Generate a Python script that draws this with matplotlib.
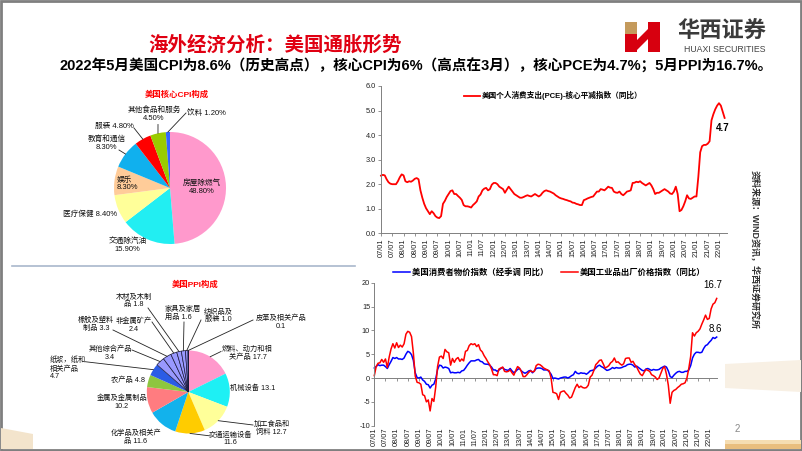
import numpy as np
import matplotlib
matplotlib.use('Agg')
import matplotlib.pyplot as plt
from matplotlib.patches import Polygon, Rectangle

# 字体：英文数字用 Liberation Sans，中文回退到 Noto Sans CJK SC
plt.rcParams['font.family'] = ['Liberation Sans', 'Noto Sans CJK SC']
plt.rcParams['axes.unicode_minus'] = False

# ---------------- 数据 ----------------
# 美国核心CPI构成（%）
cpi_names = ['房屋除燃气', '交通除汽油', '医疗保健', '娱乐', '教育和通信', '服装', '其他食品和服务', '饮料']
cpi_share = [48.8, 15.9, 8.4, 8.3, 8.3, 4.8, 4.5, 1.2]
cpi_colors = ['#FF99CC', '#22EEF2', '#FFFF99', '#FFCC99', '#10B0EE', '#FF0000', '#99CC00', '#3366FF']

# 美国PPI构成（%）
ppi_names = ['燃料、动力和相关产品', '机械设备', '加工食品和饲料', '交通运输设备', '化学品及相关产品',
             '金属及金属制品', '农产品', '纸浆，纸和相关产品', '其他综合产品', '橡胶及塑料制品',
             '非金属矿产', '木材及木制品', '家具及家居用品', '纺织品及服装', '皮革及相关产品']
ppi_share = [17.7, 13.1, 12.7, 11.6, 11.6, 10.2, 4.8, 4.7, 3.4, 3.3, 2.4, 1.8, 1.6, 1.0, 0.1]
ppi_colors = ['#FF99CC', '#1EF0F4', '#FFFF99', '#FFCC00', '#12B2EC', '#FF7C80', '#8DC63F', '#2B5CE6',
              '#9999FF', '#9999FF', '#9999FF', '#9999FF', '#9999FF', '#9999FF', '#9999FF']

# 月度横轴标签（每6个月）
tick_labels = ['07/01', '07/07', '08/01', '08/07', '09/01', '09/07', '10/01', '10/07', '11/01', '11/07',
               '12/01', '12/07', '13/01', '13/07', '14/01', '14/07', '15/01', '15/07', '16/01', '16/07',
               '17/01', '17/07', '18/01', '18/07', '19/01', '19/07', '20/01', '20/07', '21/01', '21/07',
               '22/01']

# 美国核心PCE同比，2007/01-2022/04
pce = [2.35, 2.38, 2.36, 2.20, 2.08, 2.02, 2.00, 2.00, 2.00, 2.12, 2.28, 2.40,
       2.36, 2.12, 2.08, 2.12, 2.10, 2.15, 2.22, 2.25, 2.20, 1.75, 1.45, 1.20,
       1.02, 0.90, 0.78, 0.90, 0.82, 0.70, 0.64, 0.62, 0.70, 1.20, 1.32, 1.48,
       1.60, 1.72, 1.75, 1.60, 1.60, 1.52, 1.45, 1.36, 1.15, 1.10, 1.10, 1.08,
       1.05, 1.15, 1.22, 1.30, 1.50, 1.58, 1.75, 1.82, 1.85, 1.75, 1.80, 1.98,
       2.05, 2.05, 2.00, 1.90, 1.85, 1.80, 1.65, 1.78, 1.90, 1.80, 1.70, 1.60,
       1.55, 1.50, 1.45, 1.45, 1.48, 1.52, 1.55, 1.52, 1.50, 1.55, 1.60, 1.55,
       1.50, 1.55, 1.65, 1.72, 1.75, 1.72, 1.70, 1.66, 1.62, 1.55, 1.50, 1.45,
       1.42, 1.40, 1.37, 1.35, 1.32, 1.30, 1.25, 1.24, 1.20, 1.18, 1.15, 1.15,
       1.35, 1.38, 1.42, 1.45, 1.48, 1.50, 1.60, 1.70, 1.70, 1.80, 1.78, 1.75,
       1.82, 1.90, 1.86, 1.85, 1.70, 1.66, 1.65, 1.70, 1.60, 1.55, 1.62, 1.70,
       1.72, 1.75, 2.05, 2.06, 2.10, 2.08, 2.12, 2.05, 2.00, 1.95, 2.00, 2.05,
       1.95, 1.80, 1.60, 1.65, 1.65, 1.70, 1.75, 1.80, 1.75, 1.70, 1.62, 1.60,
       1.70, 1.90, 1.60, 0.90, 0.95, 1.10, 1.30, 1.55, 1.42, 1.40, 1.45, 1.50,
       1.50, 2.30, 3.30, 3.55, 3.60, 3.60, 3.65, 3.75, 4.60, 4.85, 5.05, 5.20,
       5.30, 5.20, 4.95, 4.70]

# 美国CPI同比，2007/01-2022/05
cpi = [2.1, 2.4, 2.8, 2.6, 2.7, 2.7, 2.4, 2.0, 2.8, 3.5, 4.3, 4.1,
       4.3, 4.0, 4.0, 3.9, 4.2, 5.0, 5.6, 5.4, 4.9, 3.7, 1.1, 0.1,
       0.0, 0.2, -0.4, -0.7, -1.3, -1.4, -2.1, -1.5, -1.3, -0.2, 1.8, 2.7,
       2.6, 2.1, 2.3, 2.2, 2.0, 1.1, 1.2, 1.1, 1.1, 1.2, 1.1, 1.5,
       1.6, 2.1, 2.7, 3.2, 3.6, 3.6, 3.6, 3.8, 3.9, 3.5, 3.4, 3.0,
       2.9, 2.9, 2.7, 2.3, 1.7, 1.7, 1.4, 1.7, 2.0, 2.2, 1.8, 1.7,
       1.6, 2.0, 1.5, 1.1, 1.4, 1.8, 2.0, 1.5, 1.2, 1.0, 1.2, 1.5,
       1.6, 1.1, 1.5, 2.0, 2.1, 2.1, 2.0, 1.7, 1.7, 1.7, 1.3, 0.8,
       -0.1, 0.0, -0.1, -0.2, 0.0, 0.1, 0.2, 0.2, 0.0, 0.2, 0.5, 0.7,
       1.4, 1.0, 0.9, 1.1, 1.0, 1.0, 0.8, 1.1, 1.5, 1.6, 1.7, 2.1,
       2.5, 2.7, 2.4, 2.2, 1.9, 1.6, 1.7, 1.9, 2.2, 2.0, 2.2, 2.1,
       2.1, 2.2, 2.4, 2.5, 2.8, 2.9, 2.9, 2.7, 2.3, 2.5, 2.2, 1.9,
       1.6, 1.5, 1.9, 2.0, 1.8, 1.6, 1.8, 1.7, 1.7, 1.8, 2.1, 2.3,
       2.5, 2.3, 1.5, 0.3, 0.1, 0.6, 1.0, 1.3, 1.4, 1.2, 1.2, 1.4,
       1.4, 1.7, 2.6, 4.2, 5.0, 5.4, 5.4, 5.3, 5.4, 6.2, 6.8, 7.0,
       7.5, 7.9, 8.5, 8.3, 8.6]

# 美国PPI同比，2007/01-2022/05
ppi = [0.5, 2.4, 3.1, 3.2, 3.9, 3.3, 4.0, 2.2, 4.4, 6.1, 7.2, 6.3,
       7.4, 6.4, 6.9, 6.5, 7.2, 9.2, 9.8, 9.6, 8.7, 5.2, 0.4, -0.9,
       -1.0, -1.3, -3.5, -3.7, -5.0, -4.6, -6.9, -4.3, -4.9, -1.9, 2.4, 4.4,
       4.6, 4.1, 6.0, 5.5, 5.3, 2.7, 4.1, 3.3, 4.0, 4.3, 3.5, 4.0,
       3.6, 5.6, 5.8, 6.8, 7.2, 7.0, 7.2, 6.6, 7.0, 5.9, 5.5, 4.7,
       4.1, 3.4, 2.8, 1.9, 0.7, 0.7, 0.5, 1.9, 2.1, 2.3, 1.4, 1.3,
       1.4, 1.7, 1.1, 0.6, 1.6, 2.4, 2.1, 1.4, 0.3, 0.3, 0.7, 1.2,
       1.5, 1.3, 1.4, 2.6, 2.9, 2.8, 2.5, 2.1, 1.9, 1.7, 1.5, 0.0,
       -3.0, -3.1, -3.3, -4.5, -3.0, -2.8, -2.7, -3.2, -3.6, -4.2, -4.0, -3.0,
       -2.0, -1.3, -2.0, -1.7, -2.0, -2.1, -2.0, -1.5, 0.2, 0.6, 1.6, 2.8,
       3.2, 3.7, 3.8, 3.0, 2.1, 2.3, 2.6, 3.2, 3.5, 4.2, 3.3, 3.4,
       3.0, 2.7, 3.0, 4.1, 4.2, 4.2, 3.3, 3.5, 2.8, 2.3, 1.5, 0.8,
       0.5, 1.2, 1.8, 1.6, 1.4, 0.7, 0.5, 0.2, -0.3, 0.0, 1.0, 2.0,
       2.4, 0.8, -1.5, -5.3, -3.0, -2.6, -2.4, -2.0, -1.7, -1.3, -1.2, -1.0,
       0.0, 2.0, 4.5, 9.5, 8.8, 9.5, 9.8, 10.3, 11.3, 12.2, 13.2, 12.3,
       12.5, 14.5, 15.5, 15.8, 16.7]

# ---------------- 画布（像素坐标背景层） ----------------
W, H = 802, 451
fig = plt.figure(figsize=(W / 100, H / 100), dpi=100)
bg = fig.add_axes([0, 0, 1, 1])


def py(y):
    # 图片像素 y（向下）转为背景层坐标（向上）
    return H - y


CJK = ['Liberation Sans', 'Noto Sans CJK SC']
GRAY = '#808080'

# 核心CPI饼图
cpi_wedges, _ = bg.pie(cpi_share, colors=cpi_colors, startangle=90, counterclock=False,
                       center=(170, py(188)), radius=56, frame=True,
                       wedgeprops=dict(linewidth=0))
# PPI饼图
ppi_wedges, _ = bg.pie(ppi_share, colors=ppi_colors, startangle=90, counterclock=False,
                       center=(188.3, py(392)), radius=41.5, frame=True,
                       wedgeprops=dict(linewidth=0))
for w in ppi_wedges[8:]:
    w.set_edgecolor('#1a1a3a')
    w.set_linewidth(0.5)

bg.set_aspect('auto')
bg.set_xlim(0, W)
bg.set_ylim(0, H)
bg.axis('off')


def edge_point(w):
    ang = np.deg2rad((w.theta1 + w.theta2) / 2)
    return w.center[0] + w.r * np.cos(ang), w.center[1] + w.r * np.sin(ang)


# 核心CPI标签：(x, y, 分隔符, 对齐, 引线起点)
cpi_layout = [(202, 187.5, '\n', 'center', None),
              (127.5, 245, '\n', 'center', None),
              (90, 214.3, ' ', 'center', None),
              (116.5, 183.7, '\n', 'left', None),
              (106.7, 142.8, '\n', 'center', (119, 150)),
              (114.7, 126.5, ' ', 'center', (134, 128)),
              (154, 114, '\n', 'center', (158, 124.5)),
              (206, 112.7, ' ', 'center', (186, 113))]
for name, v, w, (x, y, sep, ha, lead) in zip(cpi_names, cpi_share, cpi_wedges, cpi_layout):
    bg.text(x, py(y), f'{name}{sep}{v:.2f}%', ha=ha, va='center', fontsize=5.5,
            linespacing=1.15, multialignment=ha, color='#111111')
    if lead:
        ex, ey = edge_point(w)
        bg.plot([lead[0], ex], [py(lead[1]), ey], color='#222222', lw=0.6)

# PPI标签：(x, y, 换行位置, 对齐, 引线起点)
ppi_layout = [(247.5, 353, [7], 'center', (221, 351.5)),
              (253, 388.3, [], 'center', None),
              (271.7, 428, [5], 'center', (253, 425)),
              (230, 438.7, [6], 'center', (211, 436)),
              (136, 437, [7], 'center', None),
              (121.7, 402.3, [7], 'center', None),
              (128, 380.7, [], 'center', None),
              (50, 368.5, [5, 9], 'left', (85, 361.7)),
              (110, 353, [6], 'center', (132, 350)),
              (96, 324, [5], 'center', (113, 330)),
              (133.5, 325, [5], 'center', (152, 322)),
              (134, 301, [5], 'center', (148, 308)),
              (165, 313.3, [5], 'left', (184, 322)),
              (218, 315.7, [4], 'center', (201, 320)),
              (281, 322, [7], 'center', (253, 320))]
for name, v, w, (x, y, brk, ha, lead) in zip(ppi_names, ppi_share, ppi_wedges, ppi_layout):
    s = f'{name} {v}'
    parts, start = [], 0
    for b in brk:
        parts.append(s[start:b].strip())
        start = b
    parts.append(s[start:].strip())
    bg.text(x, py(y), '\n'.join(parts), ha=ha, va='center', fontsize=5.2,
            linespacing=1.15, multialignment=ha, color='#111111')
    if lead:
        ex, ey = edge_point(w)
        bg.plot([lead[0], ex], [py(lead[1]), ey], color='#222222', lw=0.6)

# 标题、说明文字
bg.text(275, py(45), '海外经济分析：美国通胀形势', ha='center', va='center', fontsize=14,
        color='#E00012', fontweight='bold', family=CJK)
bg.text(416.5, py(66), '2022年5月美国CPI为8.6%（历史高点），核心CPI为6%（高点在3月），核心PCE为4.7%；5月PPI为16.7%。',
        ha='center', va='center', fontsize=10.5, fontweight='bold', color='black')
bg.text(176.7, py(95), '美国核心CPI构成', ha='center', va='center', fontsize=6, color='#FF0000',
        fontweight='bold')
bg.text(195, py(285), '美国PPI构成', ha='center', va='center', fontsize=6, color='#FF0000',
        fontweight='bold')
bg.text(755, py(249), '资料来源：WIND资讯，华西证券研究所', rotation=-90, ha='center', va='center',
        fontsize=6.5, fontweight='bold', color='#333333')
bg.text(737, py(429), '2', ha='center', va='center', fontsize=7, color='#888888')

# 分隔线与边框
bg.plot([12, 355], [py(265.5), py(265.5)], color='#A9B8CC', lw=1.2)
bg.add_patch(Rectangle((1, 1), W - 2, H - 2, fill=False, edgecolor='#7f7f7f', lw=2))

# 右侧、底部沙色装饰
bg.add_patch(Polygon([(725, py(364)), (801, py(360)), (801, py(392)), (725, py(388))],
                     closed=True, color='#F8F0E4', lw=0))
bg.add_patch(Rectangle((725, py(449)), 76, 5, color='#E9BE7E', lw=0))
bg.add_patch(Rectangle((725, py(444)), 76, 4, color='#F5DDB2', lw=0))
bg.add_patch(Polygon([(1, py(428)), (33, py(434)), (33, py(449)), (1, py(449))],
                     closed=True, color='#F3E4CC', lw=0))

# 华西证券标志
bg.add_patch(Rectangle((625, py(34)), 12, 12, color='#C49A5C', lw=0))
bg.add_patch(Rectangle((625, py(52)), 12, 18, color='#D7000F', lw=0))
bg.add_patch(Rectangle((648, py(52)), 12, 30, color='#D7000F', lw=0))
bg.add_patch(Polygon([(637, py(40)), (648, py(29)), (648, py(39)), (637, py(50))],
                     closed=True, color='#D7000F', lw=0))
bg.text(722, py(32), '华西证券', ha='center', va='center', fontsize=16, fontweight='bold',
        color='#3a3a3a')
bg.text(725, py(49), 'HUAXI SECURITIES', ha='center', va='center', fontsize=6.3, color='#444444')

# ---------------- 核心PCE折线图 ----------------
ax1 = fig.add_axes([381 / W, 1 - 233.3 / H, 345.5 / W, (233.3 - 86) / H])
ax1.set_facecolor('none')
m1 = np.arange(len(pce))
ax1.plot(m1, pce, color='#FF0000', lw=1.3, clip_on=False,
         label='美国个人消费支出(PCE)-核心平减指数（同比）')
ax1.set_xlim(0, 184)
ax1.set_ylim(0, 6)
ax1.set_yticks(np.arange(0, 7, 1))
ax1.set_yticklabels([f'{v:.1f}' for v in range(7)])
ax1.set_xticks(np.arange(0, 181, 6))
ax1.set_xticklabels(tick_labels, rotation=90)
for s in ['top', 'right']:
    ax1.spines[s].set_visible(False)
for s in ['left', 'bottom']:
    ax1.spines[s].set_color(GRAY)
    ax1.spines[s].set_linewidth(0.7)
ax1.tick_params(labelsize=5.3, length=2, width=0.6, color=GRAY, pad=1.5, labelcolor='#222222')
ax1.annotate(f'{pce[-1]}', xy=(m1[-1], pce[-1]), xytext=(-1.5, -7.5), textcoords='offset points',
             ha='center', va='center', fontsize=7, fontweight='bold')
ax1.legend(loc='center left', bbox_to_anchor=(464 / W, 1 - 95.7 / H), bbox_transform=fig.transFigure,
           frameon=False, handlelength=2.1, handletextpad=0.25, borderpad=0, borderaxespad=0,
           prop={'size': 5.5, 'weight': 'bold'})

# ---------------- CPI与PPI折线图 ----------------
ax2 = fig.add_axes([374.3 / W, 1 - 425.7 / H, 342.4 / W, 143 / H])
ax2.set_facecolor('none')
m2 = np.arange(len(cpi))
ax2.plot(m2, cpi, color='#0000FF', lw=1.1, clip_on=False, label='美国消费者物价指数（经季调 同比）')
ax2.plot(m2, ppi, color='#FF0000', lw=1.1, clip_on=False, label='美国工业品出厂价格指数（同比）')
ax2.set_xlim(0, 184)
ax2.set_ylim(-10, 20)
ax2.set_yticks(np.arange(-10, 21, 5))
ax2.set_xticks(np.arange(0, 181, 6))
ax2.set_xticklabels(tick_labels, rotation=90)
for s in ['top', 'right', 'bottom']:
    ax2.spines[s].set_visible(False)
ax2.spines['left'].set_color(GRAY)
ax2.spines['left'].set_linewidth(0.7)
ax2.tick_params(axis='x', length=0, labelsize=5.3, pad=1.5, labelcolor='#222222')
ax2.tick_params(axis='y', length=2, width=0.6, color=GRAY, labelsize=5.3, pad=1, labelcolor='#222222')
zero = ax2.secondary_xaxis(1 / 3)
zero.set_xticks(np.arange(0, 181, 6))
zero.set_xticklabels([])
zero.spines['bottom'].set_color(GRAY)
zero.spines['bottom'].set_linewidth(0.7)
zero.tick_params(length=2, width=0.6, color=GRAY)
ax2.annotate(f'{ppi[-1]}', xy=(m2[-1], ppi[-1]), xytext=(-2.5, 9.5), textcoords='offset points',
             ha='center', va='center', fontsize=7)
ax2.annotate(f'{cpi[-1]}', xy=(m2[-1], cpi[-1]), xytext=(-1, 6), textcoords='offset points',
             ha='center', va='center', fontsize=7)
ax2.legend(loc='center left', bbox_to_anchor=(393 / W, 1 - 272.7 / H), bbox_transform=fig.transFigure,
           ncol=2, frameon=False, handlelength=2.0, handletextpad=0.25, columnspacing=1.6,
           borderpad=0, borderaxespad=0, prop={'size': 6, 'weight': 'bold'})

fig.savefig('out.png', dpi=100)
